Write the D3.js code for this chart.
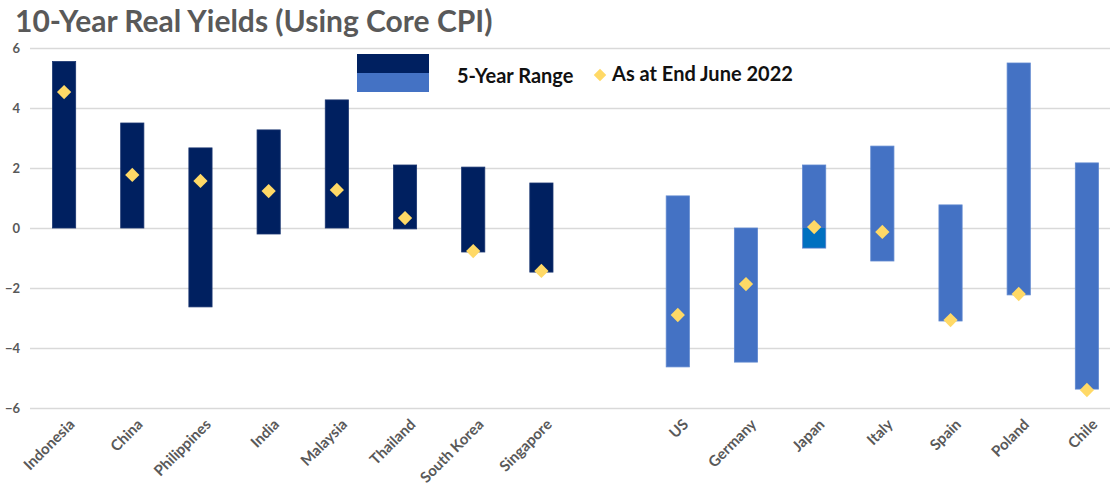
<!DOCTYPE html>
<html>
<head>
<meta charset="utf-8">
<script src="https://cdn.jsdelivr.net/npm/d3@7"></script>
<style>
  body { margin: 0; background: #fff; }
  svg { display: block; font-family: Lato, 'Open Sans', sans-serif; }
</style>
</head>
<body>
<div id="chart"></div>
<script>
// categories ('' is the empty slot between the two groups)
const categories = ['Indonesia', 'China', 'Philippines', 'India', 'Malaysia', 'Thailand', 'South Korea', 'Singapore',
  '', 'US', 'Germany', 'Japan', 'Italy', 'Spain', 'Poland', 'Chile'];
const rangeHigh = [5.55, 3.5, 2.67, 3.27, 4.27, 2.1, 2.03, 1.5, null, 1.07, 0, 2.1, 2.73, 0.77, 5.5, 2.17];
const rangeLow = [0, 0, -2.63, -0.2, 0, -0.03, -0.8, -1.47, null, -4.63, -4.47, -0.67, -1.1, -3.1, -2.23, -5.37];
const endJune2022 = [4.53, 1.77, 1.57, 1.23, 1.27, 0.33, -0.77, -1.43, null, -2.9, -1.87, 0.03, -0.13, -3.07, -2.2, -5.4];
const group = ['em', 'em', 'em', 'em', 'em', 'em', 'em', 'em', null, 'dm', 'dm', 'dm', 'dm', 'dm', 'dm', 'dm'];
const yTicks = [-6, -4, -2, 0, 2, 4, 6];

const colours = { em: '#002060', dm: '#4472C4', japanLow: '#0070C0', marker: '#FFD966' };

const width = 1110, height = 488;
const margin = { top: 48, right: -11, bottom: 80, left: 30 };

const svg = d3.select('#chart').append('svg').attr('width', width).attr('height', height);

const x = d3.scaleBand().domain(categories).range([margin.left, width - margin.right]).paddingInner(0.66).paddingOuter(0.33);
const y = d3.scaleLinear().domain([-6, 6]).range([height - margin.bottom, margin.top]);

// title
svg.append('text')
  .attr('x', 15).attr('y', 32)
  .attr('fill', '#595959').attr('font-size', 30).attr('font-weight', 700)
  .text('10-Year Real Yields (Using Core CPI)');

// gridlines + y labels
const yAxis = d3.axisLeft(y).tickValues(yTicks).tickSize(-(width - margin.left)).tickPadding(10);
svg.append('g')
  .attr('transform', `translate(${margin.left},0)`)
  .call(yAxis)
  .call(g => g.select('.domain').remove())
  .call(g => g.selectAll('line').attr('stroke', '#d9d9d9').attr('stroke-width', 1.3))
  .call(g => g.selectAll('text').attr('fill', '#595959').attr('font-size', 13).attr('font-weight', 700)
    .attr('font-family', 'Lato, sans-serif'));

const data = categories.map((c, i) => ({
  c, hi: rangeHigh[i], lo: rangeLow[i], v: endJune2022[i], g: group[i]
})).filter(d => d.g);

// range bars
const bars = svg.append('g');
bars.selectAll('rect.range')
  .data(data)
  .join('rect')
  .attr('class', 'range')
  .attr('x', d => x(d.c))
  .attr('width', x.bandwidth())
  .attr('y', d => y(d.hi))
  .attr('height', d => y(d.lo) - y(d.hi))
  .attr('fill', d => colours[d.g])
  .attr('stroke', d => d.g === 'dm' ? '#5f88d0' : '#1a3570')
  .attr('stroke-width', 0.8);

// Japan's sub-zero segment is drawn in a different blue
bars.selectAll('rect.low')
  .data(data.filter(d => d.c === 'Japan'))
  .join('rect')
  .attr('class', 'low')
  .attr('x', d => x(d.c) + 0.5)
  .attr('width', x.bandwidth() - 1)
  .attr('y', y(0))
  .attr('height', d => y(d.lo) - y(0) - 0.5)
  .attr('fill', colours.japanLow);

// markers
const diamond = d3.symbol().type(d3.symbolDiamond2).size(130);
svg.append('g').selectAll('path')
  .data(data)
  .join('path')
  .attr('transform', d => `translate(${x(d.c) + x.bandwidth() / 2},${y(d.v)})`)
  .attr('d', diamond)
  .attr('fill', colours.marker);

// x labels
const xAxis = d3.axisBottom(x).tickSize(0).tickPadding(0);
svg.append('g')
  .attr('transform', `translate(4,${y(-6) + 10})`)
  .call(xAxis)
  .call(g => g.select('.domain').remove())
  .call(g => g.selectAll('text')
    .attr('fill', '#595959').attr('font-size', 15).attr('font-weight', 700)
    .attr('font-family', 'Lato, sans-serif')
    .attr('text-anchor', 'end')
    .attr('dy', '0.7em')
    .attr('transform', 'rotate(-45)'));

// legend
const legend = svg.append('g');
legend.append('rect').attr('x', 357).attr('y', 54).attr('width', 72).attr('height', 19).attr('fill', colours.em);
legend.append('rect').attr('x', 357).attr('y', 73).attr('width', 72).attr('height', 19).attr('fill', colours.dm);
legend.append('text').attr('x', 457).attr('y', 83)
  .attr('font-size', 20).attr('font-weight', 700).attr('fill', '#111')
  .text('5-Year Range');
legend.append('path')
  .attr('transform', 'translate(600,75)')
  .attr('d', d3.symbol().type(d3.symbolDiamond2).size(100)())
  .attr('fill', colours.marker);
legend.append('text').attr('x', 612).attr('y', 81)
  .attr('font-size', 20).attr('font-weight', 700).attr('fill', '#111')
  .text('As at End June 2022');
</script>
</body>
</html>
